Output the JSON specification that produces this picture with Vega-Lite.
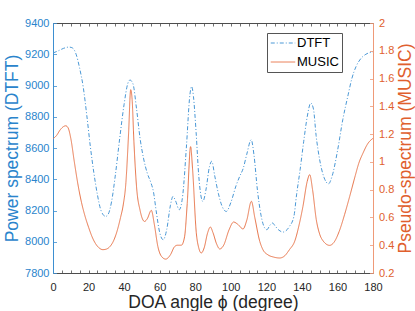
{
  "$schema": "https://vega.github.io/schema/vega-lite/v6.json",
  "width": 320,
  "height": 250,
  "autosize": {"type": "none"},
  "padding": {"left": 53, "top": 23, "right": 42, "bottom": 38},
  "background": "white",
  "config": {
    "font": "Liberation Sans",
    "view": {"stroke": null},
    "axis": {"grid": false, "labelFont": "Liberation Sans", "titleFont": "Liberation Sans", "titleFontWeight": "normal", "labelFontSize": 11, "titleFontSize": 17.5, "domainWidth": 1, "tickWidth": 0.8}
  },
  "datasets": {
    "spectra": [
      {"series": "DTFT", "angle": 0, "value": 9208},
      {"series": "DTFT", "angle": 3, "value": 9222},
      {"series": "DTFT", "angle": 6, "value": 9238},
      {"series": "DTFT", "angle": 9, "value": 9246},
      {"series": "DTFT", "angle": 11, "value": 9240},
      {"series": "DTFT", "angle": 13, "value": 9200},
      {"series": "DTFT", "angle": 15, "value": 9110},
      {"series": "DTFT", "angle": 17, "value": 8990},
      {"series": "DTFT", "angle": 19, "value": 8810},
      {"series": "DTFT", "angle": 21, "value": 8610},
      {"series": "DTFT", "angle": 23, "value": 8440},
      {"series": "DTFT", "angle": 25, "value": 8300},
      {"series": "DTFT", "angle": 27, "value": 8200},
      {"series": "DTFT", "angle": 29.6, "value": 8162},
      {"series": "DTFT", "angle": 31, "value": 8175},
      {"series": "DTFT", "angle": 33, "value": 8260},
      {"series": "DTFT", "angle": 35, "value": 8420},
      {"series": "DTFT", "angle": 37.5, "value": 8660},
      {"series": "DTFT", "angle": 40, "value": 8880},
      {"series": "DTFT", "angle": 42, "value": 9010},
      {"series": "DTFT", "angle": 43.3, "value": 9035},
      {"series": "DTFT", "angle": 45, "value": 9010},
      {"series": "DTFT", "angle": 47, "value": 8850},
      {"series": "DTFT", "angle": 49, "value": 8660},
      {"series": "DTFT", "angle": 51, "value": 8530},
      {"series": "DTFT", "angle": 53, "value": 8440},
      {"series": "DTFT", "angle": 55, "value": 8380},
      {"series": "DTFT", "angle": 56.5, "value": 8320},
      {"series": "DTFT", "angle": 58, "value": 8200},
      {"series": "DTFT", "angle": 60, "value": 8060},
      {"series": "DTFT", "angle": 62, "value": 8013},
      {"series": "DTFT", "angle": 64, "value": 8080},
      {"series": "DTFT", "angle": 66, "value": 8230},
      {"series": "DTFT", "angle": 67.5, "value": 8290},
      {"series": "DTFT", "angle": 69, "value": 8260},
      {"series": "DTFT", "angle": 71, "value": 8205},
      {"series": "DTFT", "angle": 73, "value": 8300},
      {"series": "DTFT", "angle": 75, "value": 8600},
      {"series": "DTFT", "angle": 77, "value": 8940},
      {"series": "DTFT", "angle": 78, "value": 8994},
      {"series": "DTFT", "angle": 79, "value": 8930},
      {"series": "DTFT", "angle": 80.5, "value": 8700},
      {"series": "DTFT", "angle": 82, "value": 8420},
      {"series": "DTFT", "angle": 84.3, "value": 8258},
      {"series": "DTFT", "angle": 86, "value": 8330},
      {"series": "DTFT", "angle": 88, "value": 8480},
      {"series": "DTFT", "angle": 89.3, "value": 8515},
      {"series": "DTFT", "angle": 91, "value": 8420},
      {"series": "DTFT", "angle": 93, "value": 8310},
      {"series": "DTFT", "angle": 95, "value": 8230},
      {"series": "DTFT", "angle": 97.5, "value": 8194},
      {"series": "DTFT", "angle": 100, "value": 8250},
      {"series": "DTFT", "angle": 103, "value": 8360},
      {"series": "DTFT", "angle": 105, "value": 8418},
      {"series": "DTFT", "angle": 107, "value": 8470},
      {"series": "DTFT", "angle": 109, "value": 8560},
      {"series": "DTFT", "angle": 111.5, "value": 8653},
      {"series": "DTFT", "angle": 113, "value": 8560},
      {"series": "DTFT", "angle": 115, "value": 8330},
      {"series": "DTFT", "angle": 117, "value": 8170},
      {"series": "DTFT", "angle": 119, "value": 8090},
      {"series": "DTFT", "angle": 120.3, "value": 8077},
      {"series": "DTFT", "angle": 122, "value": 8105},
      {"series": "DTFT", "angle": 123.5, "value": 8120},
      {"series": "DTFT", "angle": 125, "value": 8100},
      {"series": "DTFT", "angle": 127, "value": 8075},
      {"series": "DTFT", "angle": 129.5, "value": 8062},
      {"series": "DTFT", "angle": 131, "value": 8070},
      {"series": "DTFT", "angle": 133, "value": 8098},
      {"series": "DTFT", "angle": 135.5, "value": 8162},
      {"series": "DTFT", "angle": 137, "value": 8300},
      {"series": "DTFT", "angle": 139, "value": 8461},
      {"series": "DTFT", "angle": 141, "value": 8640},
      {"series": "DTFT", "angle": 143, "value": 8800},
      {"series": "DTFT", "angle": 145, "value": 8888},
      {"series": "DTFT", "angle": 146.5, "value": 8850},
      {"series": "DTFT", "angle": 148, "value": 8680},
      {"series": "DTFT", "angle": 150, "value": 8525},
      {"series": "DTFT", "angle": 152.5, "value": 8410},
      {"series": "DTFT", "angle": 155, "value": 8371},
      {"series": "DTFT", "angle": 157, "value": 8420},
      {"series": "DTFT", "angle": 160, "value": 8580},
      {"series": "DTFT", "angle": 163, "value": 8781},
      {"series": "DTFT", "angle": 166, "value": 8940},
      {"series": "DTFT", "angle": 168, "value": 9040},
      {"series": "DTFT", "angle": 170.5, "value": 9122},
      {"series": "DTFT", "angle": 173, "value": 9170},
      {"series": "DTFT", "angle": 176, "value": 9200},
      {"series": "DTFT", "angle": 180, "value": 9215},
      {"series": "MUSIC", "angle": 0, "value": 1.167},
      {"series": "MUSIC", "angle": 2, "value": 1.19},
      {"series": "MUSIC", "angle": 4, "value": 1.23},
      {"series": "MUSIC", "angle": 6, "value": 1.255},
      {"series": "MUSIC", "angle": 7.2, "value": 1.26},
      {"series": "MUSIC", "angle": 8.5, "value": 1.245},
      {"series": "MUSIC", "angle": 10, "value": 1.17},
      {"series": "MUSIC", "angle": 12, "value": 1.0},
      {"series": "MUSIC", "angle": 14, "value": 0.84},
      {"series": "MUSIC", "angle": 16, "value": 0.71},
      {"series": "MUSIC", "angle": 18, "value": 0.61},
      {"series": "MUSIC", "angle": 20, "value": 0.53},
      {"series": "MUSIC", "angle": 22, "value": 0.46},
      {"series": "MUSIC", "angle": 24, "value": 0.41},
      {"series": "MUSIC", "angle": 26, "value": 0.38},
      {"series": "MUSIC", "angle": 28, "value": 0.368},
      {"series": "MUSIC", "angle": 30, "value": 0.372},
      {"series": "MUSIC", "angle": 32, "value": 0.39},
      {"series": "MUSIC", "angle": 34, "value": 0.43},
      {"series": "MUSIC", "angle": 36, "value": 0.5},
      {"series": "MUSIC", "angle": 38, "value": 0.6},
      {"series": "MUSIC", "angle": 39.5, "value": 0.69},
      {"series": "MUSIC", "angle": 41, "value": 0.85},
      {"series": "MUSIC", "angle": 42.5, "value": 1.2},
      {"series": "MUSIC", "angle": 43.7, "value": 1.52},
      {"series": "MUSIC", "angle": 44.5, "value": 1.45},
      {"series": "MUSIC", "angle": 45.5, "value": 1.15},
      {"series": "MUSIC", "angle": 47, "value": 0.82},
      {"series": "MUSIC", "angle": 49, "value": 0.65},
      {"series": "MUSIC", "angle": 51.5, "value": 0.571},
      {"series": "MUSIC", "angle": 53, "value": 0.59},
      {"series": "MUSIC", "angle": 55.3, "value": 0.651},
      {"series": "MUSIC", "angle": 57, "value": 0.55},
      {"series": "MUSIC", "angle": 59, "value": 0.39},
      {"series": "MUSIC", "angle": 61, "value": 0.32},
      {"series": "MUSIC", "angle": 63.4, "value": 0.3},
      {"series": "MUSIC", "angle": 66, "value": 0.33},
      {"series": "MUSIC", "angle": 68.4, "value": 0.39},
      {"series": "MUSIC", "angle": 70, "value": 0.4},
      {"series": "MUSIC", "angle": 72.2, "value": 0.4},
      {"series": "MUSIC", "angle": 74, "value": 0.46},
      {"series": "MUSIC", "angle": 75.5, "value": 0.7},
      {"series": "MUSIC", "angle": 77.4, "value": 1.11},
      {"series": "MUSIC", "angle": 78.5, "value": 0.95},
      {"series": "MUSIC", "angle": 80.6, "value": 0.49},
      {"series": "MUSIC", "angle": 82, "value": 0.38},
      {"series": "MUSIC", "angle": 83.4, "value": 0.344},
      {"series": "MUSIC", "angle": 85, "value": 0.38},
      {"series": "MUSIC", "angle": 87, "value": 0.49},
      {"series": "MUSIC", "angle": 88.5, "value": 0.531},
      {"series": "MUSIC", "angle": 90, "value": 0.49},
      {"series": "MUSIC", "angle": 92, "value": 0.41},
      {"series": "MUSIC", "angle": 93.8, "value": 0.373},
      {"series": "MUSIC", "angle": 96, "value": 0.4},
      {"series": "MUSIC", "angle": 99, "value": 0.51},
      {"series": "MUSIC", "angle": 101.6, "value": 0.567},
      {"series": "MUSIC", "angle": 104, "value": 0.55},
      {"series": "MUSIC", "angle": 106.9, "value": 0.517},
      {"series": "MUSIC", "angle": 109, "value": 0.58},
      {"series": "MUSIC", "angle": 111.6, "value": 0.716},
      {"series": "MUSIC", "angle": 113.5, "value": 0.6},
      {"series": "MUSIC", "angle": 116.3, "value": 0.428},
      {"series": "MUSIC", "angle": 118, "value": 0.37},
      {"series": "MUSIC", "angle": 121, "value": 0.33},
      {"series": "MUSIC", "angle": 124, "value": 0.315},
      {"series": "MUSIC", "angle": 127.5, "value": 0.308},
      {"series": "MUSIC", "angle": 130, "value": 0.32},
      {"series": "MUSIC", "angle": 133, "value": 0.368},
      {"series": "MUSIC", "angle": 136, "value": 0.43},
      {"series": "MUSIC", "angle": 138.5, "value": 0.55},
      {"series": "MUSIC", "angle": 140.6, "value": 0.68},
      {"series": "MUSIC", "angle": 143, "value": 0.86},
      {"series": "MUSIC", "angle": 144.4, "value": 0.908},
      {"series": "MUSIC", "angle": 146, "value": 0.8},
      {"series": "MUSIC", "angle": 148.1, "value": 0.584},
      {"series": "MUSIC", "angle": 150, "value": 0.48},
      {"series": "MUSIC", "angle": 152, "value": 0.43},
      {"series": "MUSIC", "angle": 155.6, "value": 0.399},
      {"series": "MUSIC", "angle": 158, "value": 0.42},
      {"series": "MUSIC", "angle": 161, "value": 0.5},
      {"series": "MUSIC", "angle": 164, "value": 0.62},
      {"series": "MUSIC", "angle": 166.9, "value": 0.752},
      {"series": "MUSIC", "angle": 170, "value": 0.9},
      {"series": "MUSIC", "angle": 172, "value": 0.99},
      {"series": "MUSIC", "angle": 174.4, "value": 1.064},
      {"series": "MUSIC", "angle": 177, "value": 1.13},
      {"series": "MUSIC", "angle": 180, "value": 1.17}
    ]
  },
  "data": {"name": "spectra"},
  "layer": [
    {
      "transform": [{"filter": "datum.series === 'DTFT'"}],
      "mark": {"type": "line", "strokeWidth": 1, "interpolate": "monotone"},
      "encoding": {
        "x": {
          "field": "angle", "type": "quantitative",
          "scale": {"domain": [0, 180], "nice": false},
          "axis": {
            "orient": "bottom", "title": "DOA angle ϕ (degree)",
            "values": [0,5,10,15,20,25,30,35,40,45,50,55,60,65,70,75,80,85,90,95,100,105,110,115,120,125,130,135,140,145,150,155,160,165,170,175,180],
            "labelExpr": "datum.value % 20 === 0 ? datum.label : ''",
            "labelFlush": false, "labelOverlap": false,
            "tickSize": -3,
            "labelPadding": 11,
            "domainColor": "#4d4d4d", "tickColor": "#4d4d4d", "labelColor": "#262626", "titleColor": "#262626",
            "titlePadding": 1
          }
        },
        "y": {
          "field": "value", "type": "quantitative",
          "scale": {"domain": [7800, 9400], "nice": false},
          "axis": {
            "orient": "left", "title": "Power spectrum (DTFT)",
            "values": [7800, 8000, 8200, 8400, 8600, 8800, 9000, 9200, 9400],
            "format": "d", "tickSize": -3.5, "labelPadding": 7.5,
            "domainColor": "#3d8fd1", "tickColor": "#3d8fd1", "labelColor": "#2a84cc", "titleColor": "#2a84cc",
            "titlePadding": 3
          }
        },
        "color": {
          "field": "series", "type": "nominal",
          "scale": {"domain": ["DTFT", "MUSIC"], "range": ["#4a98d6", "#e8764c"]},
          "legend": {"title": null, "orient": "none", "legendX": 214, "legendY": 10, "symbolType": "M-2,0H2", "symbolSize": 150, "symbolOffset": 6, "symbolStrokeWidth": 1, "labelFontSize": 13, "labelColor": "#000", "labelOffset": 7, "strokeColor": "#555", "fillColor": "white", "padding": 3, "rowPadding": 5}
        },
        "strokeDash": {
          "field": "series", "type": "nominal",
          "scale": {"domain": ["DTFT", "MUSIC"], "range": [[4, 2, 1, 2], [1, 0]]},
          "legend": {"title": null, "orient": "none", "legendX": 214, "legendY": 10, "symbolType": "M-2,0H2", "symbolSize": 150, "symbolOffset": 6, "symbolStrokeWidth": 1, "labelFontSize": 13, "labelColor": "#000", "labelOffset": 7, "strokeColor": "#555", "fillColor": "white", "padding": 3, "rowPadding": 5}
        }
      }
    },
    {
      "transform": [{"filter": "datum.series === 'MUSIC'"}],
      "mark": {"type": "line", "strokeWidth": 1, "interpolate": "monotone"},
      "encoding": {
        "x": {
          "field": "angle", "type": "quantitative",
          "scale": {"domain": [0, 180], "nice": false},
          "axis": {
            "orient": "top", "title": null, "labels": false,
            "values": [0,5,10,15,20,25,30,35,40,45,50,55,60,65,70,75,80,85,90,95,100,105,110,115,120,125,130,135,140,145,150,155,160,165,170,175,180],
            "tickSize": -3,
            "domainColor": "#4d4d4d", "tickColor": "#4d4d4d"
          }
        },
        "y": {
          "field": "value", "type": "quantitative",
          "scale": {"domain": [0.2, 2], "nice": false},
          "axis": {
            "orient": "right", "title": "Pseudo-spectrum (MUSIC)",
            "values": [0.2, 0.4, 0.6, 0.8, 1, 1.2, 1.4, 1.6, 1.8, 2],
            "format": ".2~g", "tickSize": -3.5, "labelPadding": 9,
            "domainColor": "#ef9a78", "tickColor": "#ef9a78", "labelColor": "#e0602e", "titleColor": "#e0602e",
            "titleAngle": 270, "titleBaseline": "top", "titlePadding": 3
          }
        },
        "color": {"field": "series", "type": "nominal"},
        "strokeDash": {"field": "series", "type": "nominal"}
      }
    }
  ],
  "resolve": {"scale": {"y": "independent"}, "axis": {"x": "independent", "y": "independent"}}
}
